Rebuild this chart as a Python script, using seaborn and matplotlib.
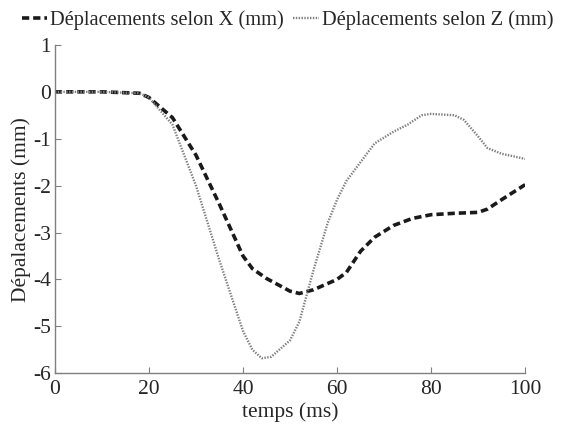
import pandas as pd
import matplotlib
matplotlib.use("Agg")
import matplotlib.pyplot as plt
import seaborn as sns

# temps (ms) and displacement values
temps_x = [0, 10, 18, 20, 25, 30, 35, 40, 42, 45, 50, 52, 55, 60, 62, 65, 68, 72, 76, 80, 85, 90, 92, 95, 100]
depl_x = [0, 0, -0.03, -0.12, -0.55, -1.35, -2.4, -3.5, -3.77, -3.98, -4.25, -4.3, -4.22, -4.0, -3.85, -3.4, -3.1, -2.85, -2.7, -2.62, -2.59, -2.57, -2.5, -2.3, -1.98]

temps_z = [0, 10, 18, 20, 25, 30, 35, 40, 42, 44, 46, 50, 52, 55, 58, 60, 62, 65, 68, 72, 75, 78, 80, 85, 87, 90, 92, 95, 100]
depl_z = [0, 0, -0.03, -0.12, -0.7, -2.0, -3.6, -5.1, -5.5, -5.68, -5.65, -5.3, -4.9, -3.8, -2.8, -2.3, -1.9, -1.5, -1.1, -0.85, -0.7, -0.5, -0.47, -0.5, -0.6, -0.95, -1.2, -1.32, -1.43]

label_x = "Déplacements selon X (mm)"
label_z = "Déplacements selon Z (mm)"

sns.set_style("white")
plt.rcParams['font.family'] = ['Liberation Serif', 'DejaVu Serif']

fig = plt.figure(figsize=(5.72, 4.28), dpi=100)
ax = fig.add_axes([0.096, 0.128, 0.822, 0.767])

df_x = pd.DataFrame({"t": temps_x, "d": depl_x})
df_z = pd.DataFrame({"t": temps_z, "d": depl_z})

sns.lineplot(data=df_x, x="t", y="d", ax=ax, color="#1a1a1a", linewidth=2.6,
             linestyle=(0, (2.0, 1.1)), label=label_x)
sns.lineplot(data=df_z, x="t", y="d", ax=ax, color="#808080", linewidth=1.7,
             linestyle=(0, (0.6, 0.6)), label=label_z)

ax.set_xlim(0, 100)
ax.set_ylim(-6, 1)
ax.set_xticks([0, 20, 40, 60, 80, 100])
ax.set_yticks([1, 0, -1, -2, -3, -4, -5, -6])
ax.set_yticklabels(["1", "0", "-1", "-2", "-3", "-4", "-5", "-6"])
ax.set_xlabel("temps (ms)", fontsize=15.5, labelpad=2)
ax.set_ylabel("Dépalacements (mm)", fontsize=15.5, labelpad=1)

for side in ["top", "right"]:
    ax.spines[side].set_visible(False)
for side in ["left", "bottom"]:
    ax.spines[side].set_color("#808080")
    ax.spines[side].set_linewidth(1.0)
ax.tick_params(direction="in", length=4, color="#808080", labelsize=15.5, pad=3,
               left=True, bottom=True)
ax.tick_params(axis="x", pad=5)

ax.get_legend().remove()
handles, labels = ax.get_legend_handles_labels()
fig.legend(handles, labels, loc="center left", bbox_to_anchor=(0.038, 0.952), ncol=2,
           frameon=False, fontsize=14.7, handlelength=1.25, handletextpad=0.15,
           columnspacing=0.45, borderaxespad=0, borderpad=0)

plt.savefig("out.png", dpi=100)
plt.close()
